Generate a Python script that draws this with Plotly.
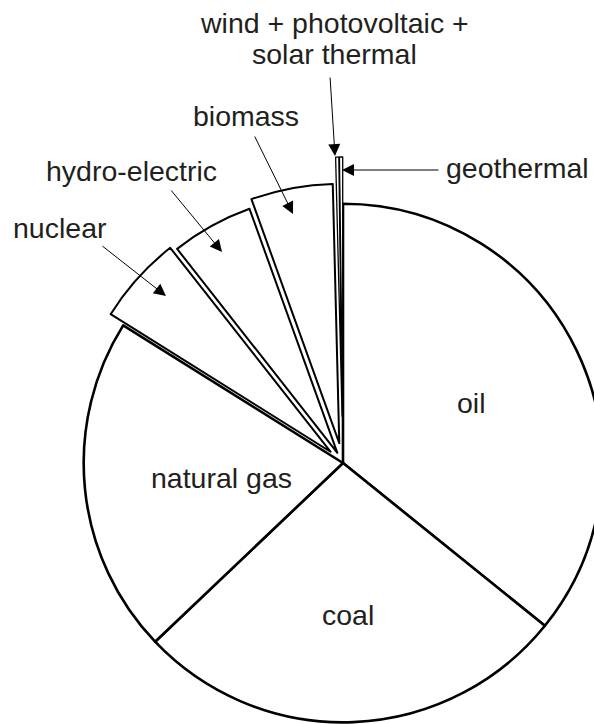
import plotly.graph_objects as go

# world primary energy supply by source (%), clockwise from 12 o'clock
sources = ["oil", "coal", "natural gas", "nuclear", "hydro-electric",
           "biomass", "wind + photovoltaic + solar thermal", "geothermal"]
shares = [35.8, 27.1, 21.0, 5.5, 5.1, 5.1, 0.2, 0.2]

W, H = 649, 769          # page is cropped to 594x724, pie runs off the right/bottom edge
INK = "#231f20"
FONT = "Liberation Sans, Arial, sans-serif"
FS = 28.5

pull = {"nuclear": 0.065, "hydro-electric": 0.045, "biomass": 0.078,
        "wind + photovoltaic + solar thermal": 0.18, "geothermal": 0.18}

# thinner outlines on the pulled-out slices so the gaps show as double lines
widths = [2.6 if s not in pull else (2.0 if v > 1 else 1.3) for s, v in zip(sources, shares)]

fig = go.Figure(go.Pie(
    labels=sources,
    values=shares,
    sort=False,
    direction="clockwise",
    rotation=0,
    pull=[pull.get(s, 0) for s in sources],
    marker=dict(colors=["white"] * len(sources),
                line=dict(color="black", width=widths)),
    textinfo="none",
    hoverinfo="skip",
    domain=dict(x=[37 / W, 1], y=[0, 612 / H]),
))


def label(text, x, y):
    fig.add_annotation(text=text, x=x / W, y=1 - y / H, xref="paper", yref="paper",
                       xanchor="center", yanchor="middle", showarrow=False,
                       font=dict(size=FS, color=INK, family=FONT))


def arrow(head, tail):
    fig.add_annotation(text="", x=head[0] / W, y=1 - head[1] / H, xref="paper", yref="paper",
                       ax=tail[0] - head[0], ay=tail[1] - head[1], showarrow=True,
                       arrowhead=2, arrowsize=2.4, arrowwidth=1, arrowcolor="black")


# labels inside the big slices
label(sources[0], 471, 403)
label(sources[1], 348, 615)
label(sources[2], 221, 478)

# labels outside with arrows
label("wind + photovoltaic +", 334, 23)
label("solar thermal", 334, 54)
arrow((335, 156), (330, 76))
label(sources[7], 517, 168)
arrow((342, 170), (440, 170))
label(sources[5], 246, 116)
arrow((293, 214), (254, 135))
label(sources[4], 131, 171)
arrow((222, 252), (170, 189))
label(sources[3], 60, 228)
arrow((166, 296), (101, 245))

fig.update_layout(width=W, height=H,
                  margin=dict(l=0, r=0, t=0, b=0),
                  paper_bgcolor="white",
                  plot_bgcolor="white",
                  showlegend=False,
                  font_family=FONT)

fig.write_html("out.html", config={"displayModeBar": False},
               post_script="document.body.style.margin='0';document.body.style.overflow='hidden';")
